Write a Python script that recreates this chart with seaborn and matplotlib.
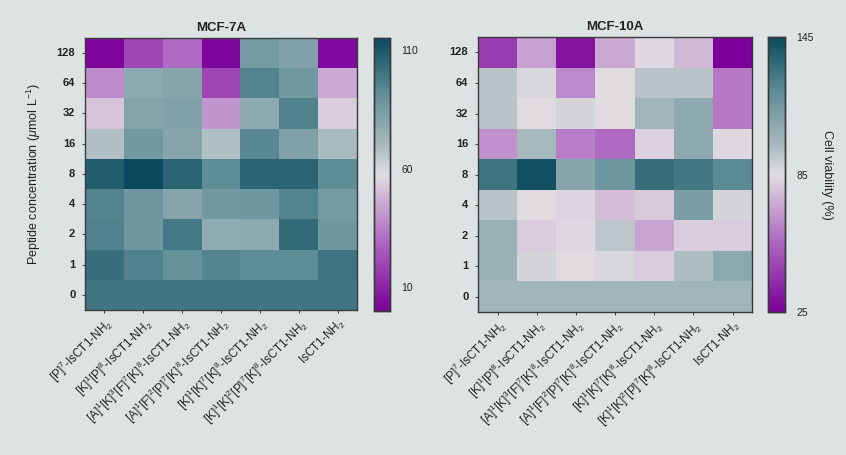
import numpy as np
import pandas as pd
import matplotlib
matplotlib.use("Agg")
import matplotlib.pyplot as plt
from matplotlib.colors import LinearSegmentedColormap
import seaborn as sns

# Peptide concentrations (rows, top to bottom) and peptide analogues (columns)
concentrations = ["128", "64", "32", "16", "8", "4", "2", "1", "0"]
peptides = [
    r"[P]$^{7}$-IsCT1-NH$_{2}$",
    r"[K]$^{1}$[P]$^{8}$-IsCT1-NH$_{2}$",
    r"[A]$^{1}$[K]$^{3}$[F]$^{7}$[K]$^{8}$-IsCT1-NH$_{2}$",
    r"[A]$^{1}$[F]$^{2}$[P]$^{7}$[K]$^{8}$-IsCT1-NH$_{2}$",
    r"[K]$^{1}$[K]$^{7}$[K]$^{8}$-IsCT1-NH$_{2}$",
    r"[K]$^{1}$[K]$^{2}$[P]$^{7}$[K]$^{8}$-IsCT1-NH$_{2}$",
    r"IsCT1-NH$_{2}$",
]

# Cell viability (%) for MCF-7A
mcf7a_128 = [2, 20, 30, 2, 85, 82, 3]
mcf7a_64 = [38, 78, 80, 20, 95, 86, 45]
mcf7a_32 = [52, 80, 82, 40, 78, 96, 54]
mcf7a_16 = [68, 86, 80, 68, 93, 82, 70]
mcf7a_8 = [108, 115, 106, 92, 106, 106, 92]
mcf7a_4 = [95, 87, 80, 86, 87, 95, 85]
mcf7a_2 = [96, 87, 99, 77, 78, 104, 87]
mcf7a_1 = [102, 96, 90, 95, 92, 92, 101]
mcf7a_0 = [100, 100, 100, 100, 100, 100, 100]

# Cell viability (%) for MCF-10A
mcf10a_128 = [43, 70, 31, 72, 84, 76, 25]
mcf10a_64 = [94, 87, 64, 85, 94, 94, 60]
mcf10a_32 = [94, 85, 88, 85, 100, 106, 60]
mcf10a_16 = [66, 99, 61, 56, 82, 106, 84]
mcf10a_8 = [130, 143, 108, 116, 132, 129, 122]
mcf10a_4 = [94, 85, 83, 77, 80, 112, 88]
mcf10a_2 = [102, 81, 84, 93, 71, 81, 81]
mcf10a_1 = [102, 88, 85, 87, 81, 97, 107]
mcf10a_0 = [100, 100, 100, 100, 100, 100, 100]

mcf7a = pd.DataFrame(
    [mcf7a_128, mcf7a_64, mcf7a_32, mcf7a_16, mcf7a_8,
     mcf7a_4, mcf7a_2, mcf7a_1, mcf7a_0],
    index=concentrations, columns=peptides)
mcf10a = pd.DataFrame(
    [mcf10a_128, mcf10a_64, mcf10a_32, mcf10a_16, mcf10a_8,
     mcf10a_4, mcf10a_2, mcf10a_1, mcf10a_0],
    index=concentrations, columns=peptides)

bg = "#dde3e3"
ink = "#222222"

sns.set_theme(style="white")
plt.rcParams["font.family"] = ["Liberation Sans", "DejaVu Sans"]
plt.rcParams["mathtext.fontset"] = "custom"
plt.rcParams["mathtext.rm"] = "Liberation Sans"
plt.rcParams["mathtext.it"] = "Liberation Sans:italic"
plt.rcParams["mathtext.bf"] = "Liberation Sans:bold"

cmap = LinearSegmentedColormap.from_list(
    "purple_teal",
    [(0.0, "#7a0099"), (0.25, "#ad66c0"), (0.5, "#e0dce0"),
     (0.62, "#a3b7bb"), (0.8, "#5f8d96"), (1.0, "#0a4a5c")])

fig = plt.figure(figsize=(8.46, 4.55), dpi=100, facecolor=bg)
ax1 = fig.add_axes([0.1005, 0.3187, 0.3215, 0.598])
cax1 = fig.add_axes([0.4415, 0.3165, 0.0200, 0.600])
ax2 = fig.add_axes([0.5650, 0.3143, 0.3240, 0.604])
cax2 = fig.add_axes([0.9080, 0.3143, 0.0200, 0.604])

panels = [
    (ax1, cax1, mcf7a, "MCF-7A", 0, 115, [10, 60, 110]),
    (ax2, cax2, mcf10a, "MCF-10A", 25, 145, [25, 85, 145]),
]

for ax, cax, data, title, vmin, vmax, ticks in panels:
    sns.heatmap(data, ax=ax, cbar_ax=cax, cmap=cmap, vmin=vmin, vmax=vmax,
                cbar_kws={"ticks": ticks}, linewidths=0)
    ax.set_facecolor(bg)
    ax.set_title(title, fontsize=9.5, fontweight="bold", color=ink, pad=5)
    for side in ax.spines.values():
        side.set_visible(True)
        side.set_color("#3a3a3a")
        side.set_linewidth(1.0)
    ax.tick_params(axis="y", left=True, length=2, width=0.6, color=ink,
                   labelsize=8, labelcolor=ink, pad=5, rotation=0)
    ax.tick_params(axis="x", bottom=True, length=2, width=0.6, color=ink,
                   labelsize=8.5, labelcolor=ink, pad=2)
    plt.setp(ax.get_xticklabels(), rotation=45, ha="right",
             rotation_mode="anchor")
    plt.setp(ax.get_yticklabels(), fontweight="bold")
    ax.set_xlabel("")
    ax.set_ylabel("")

    cax.tick_params(direction="in", length=2.5, width=0.6, color=ink,
                    labelsize=7.5, labelcolor=ink, pad=8, left=True, right=True)
    for side in cax.spines.values():
        side.set_visible(True)
        side.set_color("#3a3a3a")
        side.set_linewidth(1.0)

ax1.set_ylabel(r"Peptide concentration ($\mu$mol L$^{-1}$)", fontsize=9,
               color=ink, labelpad=10)
cax2.set_ylabel("Cell viability (%)", fontsize=9, color=ink, rotation=270,
                labelpad=14)

fig.savefig("out.png", dpi=100, facecolor=bg)
